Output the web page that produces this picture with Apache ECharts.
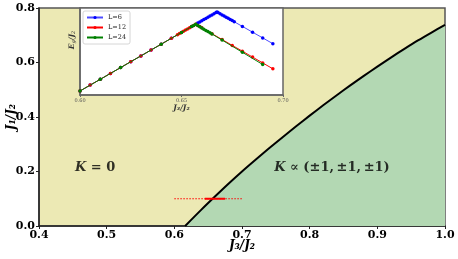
<!DOCTYPE html>
<html><head><meta charset="utf-8">
<script src="https://cdn.jsdelivr.net/npm/echarts@6/dist/echarts.min.js"></script>
<style>html,body{margin:0;padding:0;background:#fff}#c{width:458px;height:259px}</style>
</head><body><div id="c"></div>
<script>
// Phase boundary J1/J2 vs J3/J2
const boundaryJ3 = [0.616,0.64,0.66,0.68,0.70,0.72,0.74,0.76,0.78,0.80,0.82,0.84,0.86,0.88,0.90,0.92,0.94,0.96,0.98,1.00];
const boundaryJ1 = [0.000,0.060,0.108,0.155,0.200,0.243,0.285,0.326,0.366,0.405,0.443,0.480,0.516,0.551,0.585,0.618,0.650,0.681,0.710,0.738];
// red cut at J1/J2 = 0.1
const cutJ1 = 0.1;
const cutDottedJ3 = [0.60, 0.70];
const cutSolidJ3 = [0.645, 0.675];
// region labels
const regionLabels = ['K = 0', 'K ∝ (±1,\u2009±1,\u2009±1)'];
const regionPos = [[0.483, 0.215], [0.833, 0.215]];
// inset: gap energy (arbitrary units) vs J3/J2
const l6X = [0.600,0.605,0.610,0.615,0.620,0.625,0.630,0.635,0.640,0.645,0.650,0.655,0.658,0.659,0.660,0.661,0.662,0.663,0.664,0.665,0.666,0.667,0.6675,0.668,0.669,0.670,0.671,0.672,0.673,0.674,0.675,0.676,0.680,0.685,0.690,0.695];
const l6Y = [0.040,0.099,0.157,0.216,0.274,0.333,0.391,0.450,0.508,0.567,0.625,0.684,0.719,0.731,0.742,0.754,0.766,0.778,0.789,0.801,0.813,0.824,0.830,0.824,0.813,0.801,0.790,0.778,0.767,0.755,0.744,0.732,0.686,0.628,0.571,0.513];
const l12X = [0.600,0.605,0.610,0.615,0.620,0.625,0.630,0.635,0.640,0.645,0.648,0.649,0.650,0.651,0.652,0.653,0.654,0.655,0.656,0.657,0.658,0.659,0.660,0.665,0.670,0.675,0.680,0.685,0.690,0.695];
const l12Y = [0.040,0.099,0.157,0.216,0.274,0.333,0.391,0.450,0.508,0.567,0.602,0.614,0.626,0.637,0.649,0.661,0.672,0.684,0.696,0.707,0.695,0.684,0.672,0.613,0.555,0.496,0.438,0.379,0.321,0.262];
const l24X = [0.600,0.610,0.620,0.640,0.650,0.655,0.656,0.657,0.658,0.659,0.660,0.661,0.662,0.663,0.664,0.665,0.670,0.680,0.690];
const l24Y = [0.040,0.157,0.274,0.508,0.626,0.684,0.696,0.707,0.695,0.683,0.670,0.658,0.646,0.634,0.622,0.610,0.549,0.427,0.305];
const seriesNames = ['L=6', 'L=12', 'L=24'];
const seriesColors = ['#0000ff', '#ff0000', '#008000'];

const zip = (a, b) => a.map((v, i) => [v, b[i]]);
const serif = 'DejaVu Serif';
const chart = echarts.init(document.getElementById('c'), null, {renderer: 'canvas'});

const insetSeries = [zip(l6X, l6Y), zip(l12X, l12Y), zip(l24X, l24Y)].map((d, i) => ({
  name: seriesNames[i], type: 'line', xAxisIndex: 1, yAxisIndex: 1, data: d,
  symbol: 'circle', symbolSize: 3.5, showSymbol: true, z: 10 + i,
  itemStyle: {color: seriesColors[i]},
  lineStyle: {color: seriesColors[i], width: 1, opacity: i === 0 ? 0.7 : 1},
  animation: false
}));

chart.setOption({
  animation: false,
  grid: [
    {left: 39, top: 8, width: 406, height: 218, show: true, backgroundColor: '#ECE9B4', borderColor: '#555', borderWidth: 1.5, z: 0, containLabel: false, outerBoundsMode: 'none'},
    {left: 80, top: 8, width: 203, height: 87, show: true, backgroundColor: '#ffffff', borderColor: '#666', borderWidth: 1.5, z: 5, containLabel: false, outerBoundsMode: 'none'}
  ],
  legend: {
    data: seriesNames, left: 83, top: 11, orient: 'vertical', z: 20,
    backgroundColor: 'rgba(255,255,255,0.9)', borderColor: '#ccc', borderWidth: 0.8, borderRadius: 2,
    padding: [3, 4, 3, 3], itemGap: 3, itemWidth: 16, itemHeight: 4,
    textStyle: {fontFamily: serif, fontSize: 6.5, color: '#222'}
  },
  xAxis: [
    {gridIndex: 0, type: 'value', min: 0.4, max: 1.0, interval: 0.1,
     name: 'J₃/J₂', nameLocation: 'middle', nameGap: 14, nameMoveOverlap: false,
     nameTextStyle: {fontFamily: serif, fontSize: 12, fontWeight: 'bold', fontStyle: 'italic', color: '#000'},
     axisLine: {show: true, lineStyle: {color: '#222', width: 1.5}},
     axisTick: {show: true, length: 3, lineStyle: {color: '#222'}},
     axisLabel: {fontFamily: serif, fontSize: 11, fontWeight: 'bold', color: '#000', margin: 4, formatter: v => v.toFixed(1)},
     splitLine: {show: false}},
    {gridIndex: 1, type: 'value', min: 0.6, max: 0.7, interval: 0.05, z: 6,
     name: 'J₃/J₂', nameLocation: 'middle', nameGap: 9, nameMoveOverlap: false,
     nameTextStyle: {fontFamily: serif, fontSize: 7.5, fontWeight: 'bold', fontStyle: 'italic', color: '#333'},
     axisLine: {show: true, lineStyle: {color: '#666', width: 1.5}},
     axisTick: {show: true, length: 2, lineStyle: {color: '#666'}},
     axisLabel: {fontFamily: serif, fontSize: 5, color: '#555', margin: 3, formatter: v => v.toFixed(2)},
     splitLine: {show: false}}
  ],
  yAxis: [
    {gridIndex: 0, type: 'value', min: 0, max: 0.8, interval: 0.2,
     name: 'J₁/J₂', nameLocation: 'middle', nameGap: 21, nameRotate: 90, nameMoveOverlap: false,
     nameTextStyle: {fontFamily: serif, fontSize: 12, fontWeight: 'bold', fontStyle: 'italic', color: '#000'},
     axisLine: {show: true, lineStyle: {color: '#222', width: 1.5}},
     axisTick: {show: true, length: 3, lineStyle: {color: '#222'}},
     axisLabel: {fontFamily: serif, fontSize: 11, fontWeight: 'bold', color: '#000', margin: 4, formatter: v => v.toFixed(1)},
     splitLine: {show: false}},
    {gridIndex: 1, type: 'value', min: 0, max: 0.87, z: 6,
     axisLine: {show: true, lineStyle: {color: '#666', width: 1.5}},
     axisTick: {show: false}, axisLabel: {show: false}, splitLine: {show: false}}
  ],
  graphic: [
    {type: 'text', x: 72, y: 40, rotation: Math.PI / 2, z: 30,
     style: {text: 'E{s|g}/J{s|2}', fontFamily: serif, fontSize: 7.5, fontWeight: 'bold', fontStyle: 'italic', fill: '#333', align: 'center', verticalAlign: 'middle',
       rich: {s: {fontFamily: serif, fontSize: 5, fontStyle: 'italic', fill: '#333', verticalAlign: 'bottom', padding: [3, 0, 0, 0]}}}}
  ],
  series: [
    {type: 'line', xAxisIndex: 0, yAxisIndex: 0, data: zip(boundaryJ3, boundaryJ1), smooth: 0.3,
     symbol: 'none', lineStyle: {color: '#000', width: 2}, areaStyle: {color: '#B3D8B3', opacity: 1}, z: 2},
    {type: 'line', xAxisIndex: 0, yAxisIndex: 0, data: cutDottedJ3.map(x => [x, cutJ1]), symbol: 'none',
     lineStyle: {color: '#ff0000', width: 1, type: [1.5, 1.5]}, z: 3},
    {type: 'line', xAxisIndex: 0, yAxisIndex: 0, data: cutSolidJ3.map(x => [x, cutJ1]), symbol: 'none',
     lineStyle: {color: '#ff0000', width: 2}, z: 3},
    {type: 'scatter', xAxisIndex: 0, yAxisIndex: 0, symbolSize: 0, z: 4,
     data: regionPos.map((p, i) => ({value: p, label: {formatter: '{k|K} ' + regionLabels[i].slice(2)}})),
     label: {show: true, position: 'inside', fontFamily: serif, fontSize: 13, fontWeight: 'bold', color: '#000',
       rich: {k: {fontFamily: serif, fontSize: 13, fontWeight: 'bold', fontStyle: 'italic', color: '#000'}}}},
    ...insetSeries
  ]
});
</script>
</body></html>
